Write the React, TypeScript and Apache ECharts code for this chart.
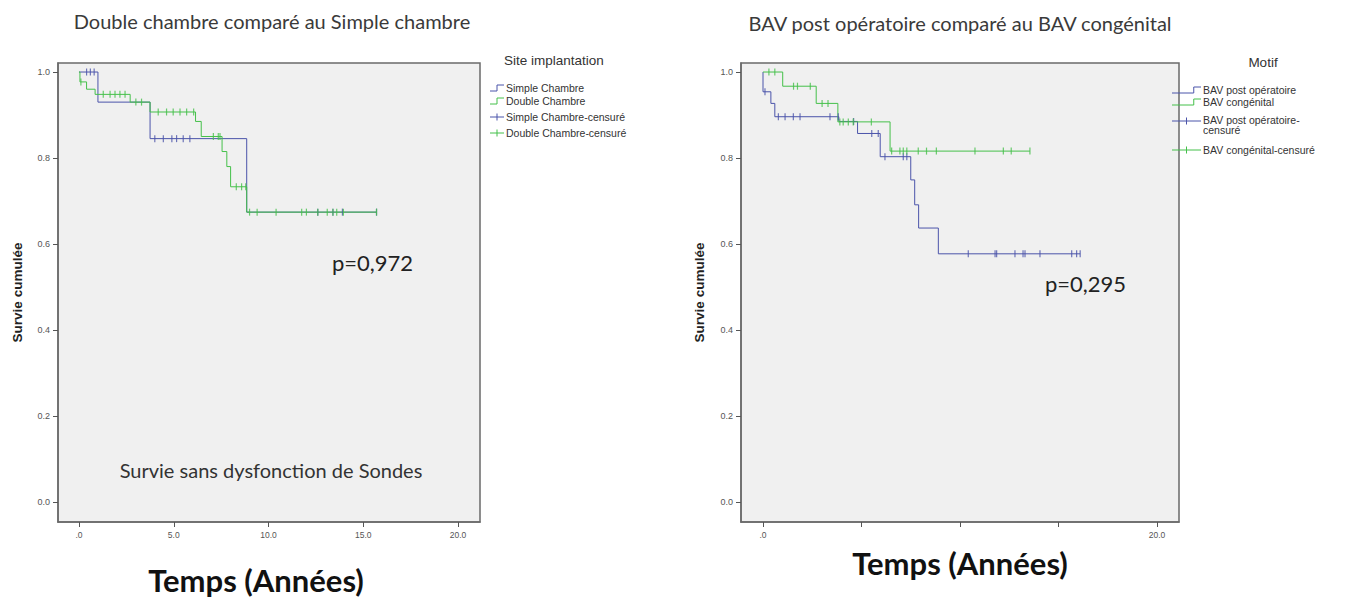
import React, { useEffect, useRef } from "react";
import * as echarts from "echarts";

// ---------- Data: left chart (Site implantation) ----------
const simpleTimes = [0, 1.0, 3.75, 8.85, 15.7];
const simpleSurv = [1.0, 0.93, 0.845, 0.674, 0.674];
const simpleCensor = [0.4, 0.6, 0.8, 4.0, 4.45, 4.9, 5.15, 5.5, 5.85, 12.6, 13.4, 13.9, 15.7];

const doubleTimes = [0, 0.05, 0.4, 0.85, 2.7, 3.75, 6.15, 6.45, 7.55, 7.8, 8.0, 8.85, 15.7];
const doubleSurv = [1.0, 0.977, 0.96, 0.948, 0.93, 0.907, 0.885, 0.85, 0.815, 0.78, 0.733, 0.674, 0.674];
const doubleCensor = [0.1, 1.28, 1.64, 1.9, 2.16, 2.43, 3.0, 3.3, 4.18, 4.62, 4.97, 5.33, 5.68, 6.05, 7.09, 7.35, 7.44, 8.3, 8.58, 8.8, 9.0, 9.4, 10.4, 11.75, 12.0, 12.6, 13.1, 13.4, 13.6, 13.95, 15.7];

// ---------- Data: right chart (Motif) ----------
const postTimes = [0, 0, 0.4, 0.6, 3.85, 4.8, 5.95, 7.5, 7.7, 7.9, 8.9, 16.1];
const postSurv = [1.0, 0.954, 0.927, 0.896, 0.885, 0.857, 0.803, 0.749, 0.691, 0.637, 0.577, 0.577];
const postCensor = [0.1, 0.78, 1.12, 1.54, 1.88, 3.4, 3.82, 4.6, 5.52, 5.85, 6.19, 7.12, 7.3, 10.42, 11.78, 11.86, 12.79, 13.2, 13.3, 14.06, 15.67, 15.92, 16.1];

const congTimes = [0, 1.0, 2.7, 3.8, 6.45, 13.55];
const congSurv = [1.0, 0.967, 0.927, 0.884, 0.816, 0.816];
const congCensor = [0.3, 0.6, 1.55, 1.75, 2.4, 3.0, 3.3, 3.9, 4.07, 4.33, 4.58, 5.5, 6.53, 6.95, 7.12, 7.3, 7.88, 8.3, 8.8, 10.76, 12.2, 12.6, 13.55];

// ---------- Axis labels ----------
const xTickValues = [0, 5, 10, 15, 20];
const leftXLabelValues = [0, 5, 10, 15, 20];
const rightXLabelValues = [0, 20];
const yTickValues = [0, 0.2, 0.4, 0.6, 0.8, 1.0];

const leftLegendTitle = "Site implantation";
const leftLegendItems = ["Simple Chambre", "Double Chambre", "Simple Chambre-censuré", "Double Chambre-censuré"];
const rightLegendTitle = "Motif";
const rightLegendItems = ["BAV post opératoire", "BAV congénital", "BAV post opératoire-\ncensuré", "BAV congénital-censuré"];

const BLUE = "#4b54aa";
const GREEN = "#45c04a";

function stepData(times: number[], surv: number[]) {
  return times.map((t, i) => [t, surv[i]]);
}
function censorData(times: number[], surv: number[], cens: number[]) {
  return cens.map((c) => {
    let s = surv[0];
    for (let i = 0; i < times.length; i++) if (times[i] <= c) s = surv[i];
    return [c, s];
  });
}

const fmtX = (v: number) => (v === 0 ? ".0" : v.toFixed(1));
const fmtY = (v: number) => v.toFixed(1);

function xAxisCfg(gridIndex: number, min: number, max: number, labels: number[]) {
  return {
    type: "value",
    gridIndex,
    min,
    max,
    axisLine: { show: true, onZero: false, lineStyle: { color: "#6a6a6a", width: 1.5 } },
    axisTick: { show: true, customValues: xTickValues, length: 5, lineStyle: { color: "#555" } },
    axisLabel: { show: true, customValues: labels, formatter: fmtX, fontSize: 8.5, color: "#555", margin: 8, fontFamily: "Liberation Sans" },
    splitLine: { show: false },
  };
}
function yAxisCfg(gridIndex: number, nameGap: number) {
  return {
    type: "value",
    gridIndex,
    min: -0.047,
    max: 1.021,
    name: "Survie cumulée",
    nameLocation: "middle",
    nameRotate: 90,
    nameGap,
    nameTextStyle: { fontSize: 13.5, fontWeight: "bold", color: "#222", fontFamily: "Liberation Sans" },
    axisLine: { show: true, onZero: false, lineStyle: { color: "#6a6a6a", width: 1.5 } },
    axisTick: { show: true, customValues: yTickValues, length: 5, lineStyle: { color: "#555" } },
    axisLabel: { show: true, customValues: yTickValues, formatter: fmtY, fontSize: 9, color: "#555", margin: 8, fontFamily: "Liberation Sans" },
    splitLine: { show: false },
  };
}

function stepSeries(name: string, xi: number, times: number[], surv: number[], color: string) {
  return {
    name,
    type: "line",
    xAxisIndex: xi,
    yAxisIndex: xi,
    step: "end",
    showSymbol: false,
    symbol: "none",
    data: stepData(times, surv),
    lineStyle: { color, width: 1 },
    itemStyle: { color },
    z: 3,
  };
}
function censorSeries(name: string, xi: number, times: number[], surv: number[], cens: number[], color: string) {
  return {
    name,
    type: "scatter",
    xAxisIndex: xi,
    yAxisIndex: xi,
    symbol: "rect",
    symbolSize: [1.2, 7],
    data: censorData(times, surv, cens),
    itemStyle: { color },
    z: 4,
  };
}

function legendGraphics(
  title: string,
  titleX: number,
  titleY: number,
  titleAlign: string,
  items: string[],
  ys: number[],
  iconX: number,
  iconW: number,
  stepFrac: number,
  textX: number
) {
  const els: any[] = [];
  els.push({
    type: "text",
    x: titleX,
    y: titleY,
    style: { text: title, fontSize: 13.5, fill: "#333", fontFamily: "Liberation Sans", align: titleAlign, verticalAlign: "middle" },
  });
  const colors = [BLUE, GREEN, BLUE, GREEN];
  items.forEach((it, i) => {
    const y = ys[i];
    const c = colors[i];
    if (i < 2) {
      els.push({
        type: "polyline",
        shape: { points: [[iconX, y + 3], [iconX + iconW * stepFrac, y + 3], [iconX + iconW * stepFrac, y - 3], [iconX + iconW, y - 3]] },
        style: { stroke: c, lineWidth: 1, fill: null },
      });
    } else {
      els.push({ type: "line", shape: { x1: iconX, y1: y, x2: iconX + iconW, y2: y }, style: { stroke: c, lineWidth: 1 } });
      els.push({ type: "line", shape: { x1: iconX + iconW * 0.5, y1: y - 3.5, x2: iconX + iconW * 0.5, y2: y + 3.5 }, style: { stroke: c, lineWidth: 1 } });
    }
    const multi = it.includes("\n");
    els.push({
      type: "text",
      x: textX,
      y: multi ? y - 6 : y,
      style: { text: it, fontSize: 10.5, lineHeight: 10, fill: "#333", fontFamily: "Liberation Sans", align: "left", verticalAlign: multi ? "top" : "middle" },
    });
  });
  return els;
}

export default function App() {
  const ref = useRef<HTMLDivElement>(null);
  useEffect(() => {
    if (!ref.current) return;
    const chart = echarts.init(ref.current, null, { renderer: "svg" });
    const textFont = "Lato";
    const option: any = {
      animation: false,
      backgroundColor: "#ffffff",
      grid: [
        { left: 58, top: 63, width: 422, height: 459, show: true, backgroundColor: "#f0f0f0", borderColor: "#6a6a6a", borderWidth: 1.5 },
        { left: 741, top: 63, width: 438, height: 459, show: true, backgroundColor: "#f0f0f0", borderColor: "#6a6a6a", borderWidth: 1.5 },
      ],
      xAxis: [xAxisCfg(0, -1.108, 21.16, leftXLabelValues), xAxisCfg(1, -1.117, 21.117, rightXLabelValues)],
      yAxis: [yAxisCfg(0, 34), yAxisCfg(1, 35)],
      series: [
        stepSeries("Simple Chambre", 0, simpleTimes, simpleSurv, BLUE),
        stepSeries("Double Chambre", 0, doubleTimes, doubleSurv, GREEN),
        censorSeries("Simple Chambre-censuré", 0, simpleTimes, simpleSurv, simpleCensor, BLUE),
        censorSeries("Double Chambre-censuré", 0, doubleTimes, doubleSurv, doubleCensor, GREEN),
        stepSeries("BAV post opératoire", 1, postTimes, postSurv, BLUE),
        stepSeries("BAV congénital", 1, congTimes, congSurv, GREEN),
        censorSeries("BAV post opératoire-censuré", 1, postTimes, postSurv, postCensor, BLUE),
        censorSeries("BAV congénital-censuré", 1, congTimes, congSurv, congCensor, GREEN),
      ],
      graphic: [
        { type: "text", x: 272, y: 21, style: { text: "Double chambre comparé au Simple chambre", fontSize: 20, fill: "#3a3a3a", fontFamily: textFont, align: "center", verticalAlign: "middle" } },
        { type: "text", x: 960, y: 23, style: { text: "BAV post opératoire comparé au BAV congénital", fontSize: 20, fill: "#3a3a3a", fontFamily: textFont, align: "center", verticalAlign: "middle" } },
        { type: "text", x: 332, y: 262, z: 10, style: { text: "p=0,972", fontSize: 22, fill: "#222", fontFamily: textFont, align: "left", verticalAlign: "middle" } },
        { type: "text", x: 1045, y: 283, z: 10, style: { text: "p=0,295", fontSize: 22, fill: "#222", fontFamily: textFont, align: "left", verticalAlign: "middle" } },
        { type: "text", x: 271, y: 470, z: 10, style: { text: "Survie sans dysfonction de Sondes", fontSize: 20, fill: "#333", fontFamily: textFont, align: "center", verticalAlign: "middle" } },
        { type: "text", x: 256, y: 580, style: { text: "Temps (Années)", fontSize: 31, fontWeight: "bold", fill: "#111", fontFamily: textFont, align: "center", verticalAlign: "middle" } },
        { type: "text", x: 960, y: 563, style: { text: "Temps (Années)", fontSize: 31, fontWeight: "bold", fill: "#111", fontFamily: textFont, align: "center", verticalAlign: "middle" } },
        ...legendGraphics(leftLegendTitle, 504, 60, "left", leftLegendItems, [88, 101, 117, 133], 490, 14, 0.5, 506),
        ...legendGraphics(rightLegendTitle, 1263, 62, "center", rightLegendItems, [90, 102, 121, 150], 1172, 29, 0.75, 1203),
      ],
    };
    chart.setOption(option);
    return () => chart.dispose();
  }, []);
  return (
    <div
      ref={ref}
      style={{ position: "fixed", left: 0, top: 0, width: 1346, height: 599, background: "#fff" }}
    />
  );
}
